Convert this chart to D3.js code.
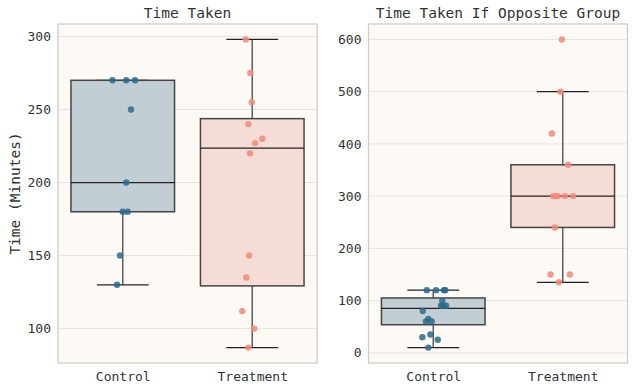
<!DOCTYPE html>
<html>
<head>
<meta charset="utf-8">
<script src="https://cdn.jsdelivr.net/npm/d3@7"></script>
<style>
  body { margin: 0; background: #ffffff; }
  text { font-family: "DejaVu Sans Mono", monospace; fill: #333; }
</style>
</head>
<body>
<script>
const groups = ["Control", "Treatment"];

// left panel: time taken (minutes)
const takenControl = [130, 150, 180, 180, 200, 250, 270, 270, 270];
const takenTreatment = [87, 100, 112, 135, 150, 220, 227, 230, 240, 255, 275, 298];

// right panel: time taken if in the opposite group
const oppositeControl = [10, 25, 30, 35, 60, 60, 65, 80, 90, 90, 90, 100, 120, 120, 120, 120];
const oppositeTreatment = [135, 150, 150, 240, 300, 300, 300, 300, 300, 360, 420, 500, 600];

// strip plot jitter (fraction of one category step)
const jitterTakenControl = [-0.044, -0.021, 0.0, 0.038, 0.027, 0.064, -0.08, 0.027, 0.095];
const jitterTakenTreatment = [-0.03, 0.016, -0.077, -0.046, -0.025, -0.017, 0.021, 0.078, -0.03, -0.004, -0.015, -0.05];
const jitterOppControl = [-0.038, 0.035, -0.084, -0.022, -0.056, -0.012, -0.038, -0.081, 0.06, 0.076, 0.099, 0.07, -0.05, 0.022, 0.083, 0.093];
const jitterOppTreatment = [-0.03, -0.094, 0.055, -0.061, -0.074, -0.053, -0.038, 0.016, 0.08, 0.042, -0.084, -0.017, -0.007];

const leftTicks = [100, 150, 200, 250, 300];
const rightTicks = [0, 100, 200, 300, 400, 500, 600];

const boxFill = {Control: "#c1ced4", Treatment: "#f5dcd6"};
const dotColor = {Control: "#2a6a8c", Treatment: "#f08b79"};

const svg = d3.select("body").append("svg").attr("width", 635).attr("height", 392);

function drawPanel(x0, x1, title, series, jitters, ticks, yLabel)
{
    const top = 24, bottom = 363;

    const all = series[0].concat(series[1]);
    const lo = d3.min(all), hi = d3.max(all);
    const pad = (hi - lo) * 0.05;

    const y = d3.scaleLinear().domain([lo - pad, hi + pad]).range([bottom, top]);
    // categories sit at 0 and 1, axis runs from -0.5 to 1.5 like seaborn
    const x = d3.scaleLinear().domain([-0.5, 1.5]).range([x0, x1]);
    const step = x(1) - x(0);

    const g = svg.append("g");

    g.append("rect").attr("x", x0).attr("y", top).attr("width", x1 - x0).attr("height", bottom - top)
        .attr("fill", "#fdf9f4");

    const yAxis = d3.axisLeft(y).tickValues(ticks).tickSize(0).tickPadding(7);
    const ya = g.append("g").attr("transform", "translate(" + x0 + ",0)").call(yAxis);
    ya.select(".domain").remove();
    ya.selectAll("text").style("font-size", "13px").style("font-family", "DejaVu Sans Mono").attr("fill", "#333");

    g.selectAll(".grid").data(ticks).enter().append("line")
        .attr("x1", x0).attr("x2", x1)
        .attr("y1", d => y(d)).attr("y2", d => y(d))
        .attr("stroke", "#e6e3e0").attr("stroke-width", 1);

    const xAxis = d3.axisBottom(x).tickValues([0, 1]).tickFormat(i => groups[i]).tickSize(0).tickPadding(9);
    const xa = g.append("g").attr("transform", "translate(0," + bottom + ")").call(xAxis);
    xa.select(".domain").remove();
    xa.selectAll("text").style("font-size", "13px").style("font-family", "DejaVu Sans Mono").attr("fill", "#333");

    series.forEach(function (values, i) {
        const sorted = values.slice().sort(d3.ascending);
        const q1 = d3.quantile(sorted, 0.25);
        const med = d3.quantile(sorted, 0.5);
        const q3 = d3.quantile(sorted, 0.75);
        const iqr = q3 - q1;
        const inside = sorted.filter(v => v >= q1 - 1.5 * iqr && v <= q3 + 1.5 * iqr);
        const wLo = d3.min(inside), wHi = d3.max(inside);

        const cx = x(i);
        const bw = step * 0.8;
        const stroke = "#454545";

        g.append("line").attr("x1", cx).attr("x2", cx).attr("y1", y(q1)).attr("y2", y(wLo))
            .attr("stroke", stroke).attr("stroke-width", 1.5).attr("opacity", 0.85);
        g.append("line").attr("x1", cx).attr("x2", cx).attr("y1", y(q3)).attr("y2", y(wHi))
            .attr("stroke", stroke).attr("stroke-width", 1.5).attr("opacity", 0.85);
        [wLo, wHi].forEach(function (w) {
            g.append("line").attr("x1", cx - bw / 4).attr("x2", cx + bw / 4).attr("y1", y(w)).attr("y2", y(w))
                .attr("stroke", "#222").attr("stroke-width", 1.3);
        });

        g.append("rect").attr("x", cx - bw / 2).attr("y", y(q3)).attr("width", bw).attr("height", y(q1) - y(q3))
            .attr("fill", boxFill[groups[i]]).attr("stroke", stroke).attr("stroke-width", 1.5);
        g.append("line").attr("x1", cx - bw / 2).attr("x2", cx + bw / 2).attr("y1", y(med)).attr("y2", y(med))
            .attr("stroke", "#222").attr("stroke-width", 1.3);

        g.selectAll(".dot" + i).data(values).enter().append("circle")
            .attr("cx", (d, k) => x(i + jitters[i][k]))
            .attr("cy", d => y(d))
            .attr("r", 3.2)
            .attr("fill", dotColor[groups[i]])
            .attr("opacity", 0.85);
    });

    g.append("rect").attr("x", x0).attr("y", top).attr("width", x1 - x0).attr("height", bottom - top)
        .attr("fill", "none").attr("stroke", "#cfcccb").attr("stroke-width", 1.3);

    g.append("text").attr("x", (x0 + x1) / 2).attr("y", 18).attr("text-anchor", "middle")
        .style("font-size", "14.5px").text(title);

    if (yLabel) {
        g.append("text").attr("transform", "translate(19.5," + ((top + bottom) / 2) + ") rotate(-90)")
            .attr("text-anchor", "middle").style("font-size", "14.5px").text(yLabel);
    }
}

drawPanel(58, 317, "Time Taken", [takenControl, takenTreatment],
    [jitterTakenControl, jitterTakenTreatment], leftTicks, "Time (Minutes)");
drawPanel(368.5, 627.5, "Time Taken If Opposite Group", [oppositeControl, oppositeTreatment],
    [jitterOppControl, jitterOppTreatment], rightTicks, null);
</script>
</body>
</html>
